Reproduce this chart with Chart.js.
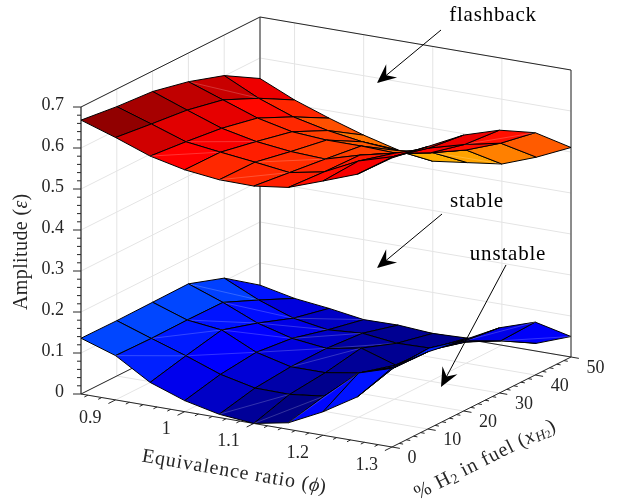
<!DOCTYPE html>
<html>
<head>
<meta charset="utf-8">
<style>
html, body { margin: 0; padding: 0; background: #fff; }
canvas { display: block; }
</style>
<script src="https://cdn.jsdelivr.net/npm/chart.js@4"></script>
</head>
<body>
<canvas id="surfaceChart" width="618" height="500"></canvas>
<script>
// axis values
var phiValues = [0.85, 0.9, 0.95, 1, 1.05, 1.1, 1.15, 1.2, 1.25, 1.3];
var h2Values = [0, 10, 20, 30, 40, 50];
var phiTicks = [0.9, 1, 1.1, 1.2, 1.3];
var phiTickLabels = ['0.9', '1', '1.1', '1.2', '1.3'];
var h2Ticks = [0, 10, 20, 30, 40, 50];
var ampTicks = [0, 0.1, 0.2, 0.3, 0.4, 0.5, 0.6, 0.7];
var ampTickLabels = ['0', '0.1', '0.2', '0.3', '0.4', '0.5', '0.6', '0.7'];

// amplitude, one row per phi value, one column per H2 value
var flashbackAmp = [
    [.668, .657, .650, .630, .601, .550],
    [.640, .629, .619, .600, .560, .512],
    [.609, .600, .589, .570, .529, .482],
    [.590, .589, .571, .551, .510, .455],
    [.580, .579, .561, .545, .497, .433],
    [.579, .568, .557, .545, .490, .420],
    [.590, .584, .581, .542, .500, .431],
    [.620, .625, .600, .557, .520, .442],
    [.651, .650, .627, .592, .551, .473],
    [.705, .689, .673, .641, .591, .511]
];
var unstableAmp = [
    [.136, .135, .136, .137, .107, .046],
    [.108, .106, .107, .106, .068, .028],
    [.057, .078, .097, .070, .038, .018],
    [.027, .047, .057, .047, .024, .005],
    [.008, .028, .036, .037, .030, .006],
    [.000, .027, .036, .052, .020, .000],
    [.016, .037, .050, .025, .022, .003],
    [.057, .108, .078, .076, .052, .013],
    [.108, .134, .139, .113, .069, .019],
    [.193, .188, .173, .159, .129, .050]
];

// colour value of each patch
var flashbackShade = [
    [.04, .09, .15, .17, .26],
    [.19, .23, .24, .33, .45],
    [.30, .28, .46, .46, .62],
    [.46, .42, .50, .55, .75],
    [.46, .48, .55, .65, .85],
    [.42, .45, .55, .70, 1.0],
    [.35, .40, .50, .60, .95],
    [.28, .28, .30, .35, .81],
    [.20, .22, .26, .36, .66]
];
var unstableShade = [
    [.92, .92, .92, .90, .76],
    [.80, .78, .76, .74, .55],
    [.62, .70, .70, .60, .45],
    [.45, .52, .55, .45, .30],
    [.25, .32, .38, .28, .22],
    [.16, .20, .24, .22, .20],
    [.72, .28, .28, .24, .22],
    [.76, .55, .45, .35, .35],
    [.82, .80, .70, .60, .68]
];

// patches with a faint seam along the diagonal
var flashbackSeams = [[0, 3], [2, 0], [2, 1], [4, 0], [4, 1], [6, 4], [8, 3]];
var unstableSeams = [[0, 3], [1, 0], [1, 1], [1, 2], [1, 3], [2, 1], [2, 2], [2, 3], [2, 4],
    [3, 2], [3, 3], [4, 0], [4, 2], [4, 3], [5, 0], [6, 0], [8, 3], [8, 4]];

var phiMin = 0.85, phiMax = 1.3, h2Max = 50;

// 3d axes to canvas position
function project(phi, h2, amp) {
    var u = (phi - phiMin) / (phiMax - phiMin);
    var v = h2 / h2Max;
    return {
        x: 81 + 311 * u + 179 * v,
        y: 394 + 53 * u - 90 * v - 410 * amp
    };
}

function redColor(c) {
    if (c < 0.3) return 'rgb(' + Math.round(128 + 127 * c / 0.3) + ',0,0)';
    return 'rgb(255,' + Math.round(176 * (c - 0.3) / 0.7) + ',0)';
}

function blueColor(c) {
    if (c < 0.7) return 'rgb(0,0,' + Math.round(96 + 159 * c / 0.7) + ')';
    return 'rgb(0,' + Math.round(96 * (c - 0.7) / 0.3) + ',255)';
}

var datasets = [];

function addLine(points, color, width) {
    datasets.push({
        data: points,
        showLine: true,
        fill: false,
        borderColor: color,
        borderWidth: width,
        pointRadius: 0,
        tension: 0,
        clip: false
    });
}

function addSurface(amp, shade, seams, colorFn) {
    var patches = [];
    for (var i = 0; i < phiValues.length - 1; i++) {
        for (var j = 0; j < h2Values.length - 1; j++) {
            patches.push({i: i, j: j});
        }
    }
    // far patches first
    patches.sort(function (a, b) {
        return (311 * b.j / 5 - 179 * b.i / 9) - (311 * a.j / 5 - 179 * a.i / 9);
    });
    patches.forEach(function (p) {
        var i = p.i, j = p.j;
        datasets.push({
            data: [
                project(phiValues[i], h2Values[j], amp[i][j]),
                project(phiValues[i + 1], h2Values[j], amp[i + 1][j]),
                project(phiValues[i + 1], h2Values[j + 1], amp[i + 1][j + 1]),
                project(phiValues[i], h2Values[j + 1], amp[i][j + 1]),
                project(phiValues[i], h2Values[j], amp[i][j])
            ],
            showLine: true,
            fill: 'shape',
            backgroundColor: colorFn(shade[i][j]),
            borderColor: '#000',
            borderWidth: 1,
            pointRadius: 0,
            tension: 0,
            clip: false
        });
        var hasSeam = seams.some(function (s) { return s[0] == i && s[1] == j; });
        if (hasSeam) {
            addLine([
                project(phiValues[i], h2Values[j], amp[i][j]),
                project(phiValues[i + 1], h2Values[j + 1], amp[i + 1][j + 1])
            ], 'rgba(255,255,255,0.2)', 1);
        }
    });
}

// grid on the two walls and the floor
var gridColor = '#e4e4e4';
phiTicks.forEach(function (p) {
    addLine([project(p, 0, 0), project(p, h2Max, 0)], gridColor, 1);
    addLine([project(p, h2Max, 0), project(p, h2Max, 0.7)], gridColor, 1);
});
h2Ticks.forEach(function (h) {
    addLine([project(phiMin, h, 0), project(phiMax, h, 0)], gridColor, 1);
    addLine([project(phiMin, h, 0), project(phiMin, h, 0.7)], gridColor, 1);
});
ampTicks.forEach(function (a) {
    addLine([project(phiMin, 0, a), project(phiMin, h2Max, a)], gridColor, 1);
    addLine([project(phiMin, h2Max, a), project(phiMax, h2Max, a)], gridColor, 1);
});

// box
var axisColor = '#262626';
addLine([project(phiMin, h2Max, 0), project(phiMin, h2Max, 0.7)], '#707070', 1.6);
addLine([project(phiMin, 0, 0), project(phiMin, h2Max, 0), project(phiMax, h2Max, 0)], axisColor, 1);
addLine([project(phiMin, 0, 0.7), project(phiMin, h2Max, 0.7), project(phiMax, h2Max, 0.7)], axisColor, 1);
addLine([project(phiMax, h2Max, 0), project(phiMax, h2Max, 0.7)], axisColor, 1);
addLine([project(phiMin, 0, 0), project(phiMin, 0, 0.7)], axisColor, 1.2);
addLine([project(phiMin, 0, 0), project(phiMax, 0, 0), project(phiMax, h2Max, 0)], axisColor, 1);

// ticks
function tick(from, dx, dy) {
    addLine([from, {x: from.x + dx, y: from.y + dy}], axisColor, 1);
}
for (var p = 0; p <= 22; p++) {
    var ph = 0.86 + p * 0.02;
    var isMajor = Math.abs(((ph - 0.9) / 0.1) - Math.round((ph - 0.9) / 0.1)) < 0.01;
    var len = isMajor ? 8 : 4;
    tick(project(ph, 0, 0), -len * 0.89, len * 0.45);
}
for (var h = 0; h <= 25; h++) {
    var hLen = h % 5 == 0 ? 8 : 4;
    tick(project(phiMax, h * 2, 0), hLen * 0.985, hLen * 0.17);
}
for (var a = 0; a <= 35; a++) {
    var aLen = a % 5 == 0 ? 8 : 4;
    tick(project(phiMin, 0, a * 0.02), -aLen, 0);
}

addSurface(unstableAmp, unstableShade, unstableSeams, blueColor);
addSurface(flashbackAmp, flashbackShade, flashbackSeams, redColor);

// arrows and their labels
function drawArrow(ctx, x1, y1, x2, y2) {
    var ang = Math.atan2(y2 - y1, x2 - x1);
    ctx.save();
    ctx.strokeStyle = '#000';
    ctx.lineWidth = 1;
    ctx.beginPath();
    ctx.moveTo(x1, y1);
    ctx.lineTo(x2 - 8 * Math.cos(ang), y2 - 8 * Math.sin(ang));
    ctx.stroke();
    ctx.translate(x2, y2);
    ctx.rotate(ang);
    ctx.fillStyle = '#000';
    ctx.beginPath();
    ctx.moveTo(0, 0);
    ctx.lineTo(-19, -8.5);
    ctx.lineTo(-12, 0);
    ctx.lineTo(-19, 8.5);
    ctx.closePath();
    ctx.fill();
    ctx.restore();
}

var serif = '"Liberation Serif", serif';

function drawRuns(ctx, runs, cx, cy, angle, align) {
    ctx.save();
    ctx.translate(cx, cy);
    ctx.rotate(angle);
    ctx.textBaseline = 'middle';
    ctx.textAlign = 'left';
    var total = 0;
    runs.forEach(function (r) {
        ctx.font = r.font;
        ctx.letterSpacing = r.spacing || '0px';
        total += ctx.measureText(r.text).width;
    });
    var x = align == 'left' ? 0 : (align == 'right' ? -total : -total / 2);
    runs.forEach(function (r) {
        ctx.font = r.font;
        ctx.letterSpacing = r.spacing || '0px';
        ctx.fillStyle = r.color || '#262626';
        ctx.fillText(r.text, x, r.dy || 0);
        x += ctx.measureText(r.text).width;
    });
    ctx.restore();
}

var textPlugin = {
    id: 'textPlugin',
    afterDraw: function (chart) {
        var ctx = chart.ctx;
        var tickFont = '18px ' + serif;
        var labelFont = '20px ' + serif;
        var italic = 'italic 20px ' + serif;
        var sp = '0.9px';

        ampTicks.forEach(function (a, k) {
            var pos = project(phiMin, 0, a);
            drawRuns(ctx, [{text: ampTickLabels[k], font: tickFont}], pos.x - 17, pos.y - 2, 0, 'right');
        });
        phiTicks.forEach(function (t, k) {
            var pos = project(t, 0, 0);
            drawRuns(ctx, [{text: phiTickLabels[k], font: tickFont}], pos.x - 14, pos.y + 18, 0, 'right');
        });
        h2Ticks.forEach(function (t) {
            var pos = project(phiMax, t, 0);
            drawRuns(ctx, [{text: String(t), font: tickFont}], pos.x + 15.5, pos.y + 11, 0, 'left');
        });

        drawRuns(ctx, [
            {text: 'Amplitude (', font: labelFont, spacing: '0.4px'},
            {text: 'ε', font: italic},
            {text: ')', font: labelFont}
        ], 22, 252, -Math.PI / 2);
        drawRuns(ctx, [
            {text: 'Equivalence ratio (', font: labelFont, spacing: sp},
            {text: 'ϕ', font: italic},
            {text: ')', font: labelFont}
        ], 234, 472, Math.atan2(53, 311));
        drawRuns(ctx, [
            {text: '% H', font: labelFont, spacing: sp},
            {text: '2', font: '14px ' + serif, dy: 4},
            {text: ' in fuel (', font: labelFont, spacing: sp},
            {text: 'x', font: italic, spacing: '1px'},
            {text: 'H', font: 'italic 14px ' + serif, dy: 4},
            {text: '2', font: '11px ' + serif, dy: 6},
            {text: ')', font: labelFont}
        ], 485, 460, -Math.atan2(90, 179));

        drawArrow(ctx, 441, 30, 377, 83);
        drawArrow(ctx, 442, 214, 377, 268);
        drawArrow(ctx, 506, 265, 441, 387);
        var annFont = '21px ' + serif;
        drawRuns(ctx, [{text: 'flashback', font: annFont, spacing: '0.8px', color: '#000'}], 493, 15, 0);
        drawRuns(ctx, [{text: 'stable', font: annFont, spacing: '0.8px', color: '#000'}], 477, 201, 0);
        drawRuns(ctx, [{text: 'unstable', font: annFont, spacing: '0.8px', color: '#000'}], 508, 254, 0);
    }
};

// first dataset in the list is painted last
datasets.reverse();

var surfaceChart = new Chart(document.getElementById('surfaceChart'), {
    type: 'scatter',
    data: { datasets: datasets },
    options: {
        responsive: false,
        animation: false,
        events: [],
        layout: { padding: 0 },
        plugins: { legend: { display: false }, tooltip: { enabled: false } },
        scales: {
            x: { type: 'linear', display: false, min: 0, max: 618 },
            y: { type: 'linear', display: false, min: 0, max: 500, reverse: true }
        }
    },
    plugins: [textPlugin]
});
</script>
</body>
</html>
